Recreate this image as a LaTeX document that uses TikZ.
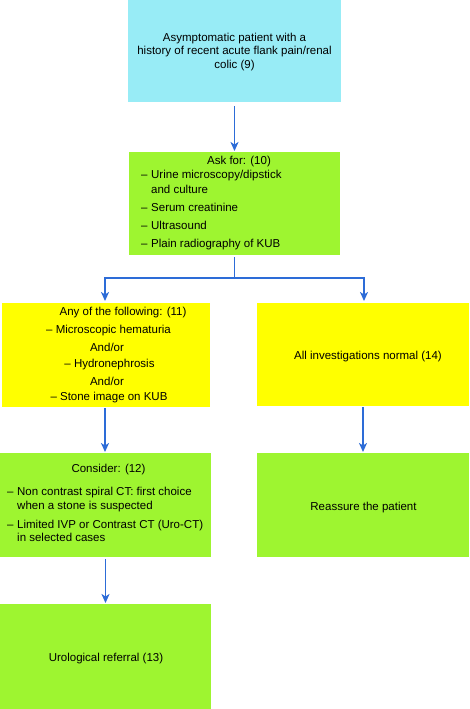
\documentclass[tikz,border=0pt]{standalone}
\usepackage{fontspec}
\setmainfont{Liberation Sans}
\usetikzlibrary{arrows.meta}
\definecolor{boxcyan}{RGB}{152,236,246}
\definecolor{boxgreen}{RGB}{158,245,48}
\definecolor{boxyellow}{RGB}{255,255,0}
\definecolor{arrblue}{RGB}{45,108,215}
\begin{document}
\begin{tikzpicture}[x=1pt,y=-1pt,
  box/.style={draw=none,inner sep=0pt,outer sep=0pt,anchor=north west},
  txt/.style={inner sep=0pt,font=\fontsize{11.5}{13}\selectfont,anchor=base},
  txtl/.style={txt,anchor=base west},
  link/.style={draw=arrblue,line width=1.8pt},
  arr/.style={link,-{Stealth[length=9pt,width=8pt,inset=2.5pt]}}]
\useasboundingbox (0,0) rectangle (469,709);
% boxes
\path[fill=boxcyan] (128,0) rectangle (341,102);
\node[box,minimum width=213pt,minimum height=102pt] (top) at (128,0) {};
\path[fill=boxgreen] (129,152) rectangle (340,255);
\node[box,minimum width=211pt,minimum height=103pt] (ask) at (129,152) {};
\path[fill=boxyellow] (2,303) rectangle (210,407);
\node[box,minimum width=208pt,minimum height=104pt] (any) at (2,303) {};
\path[fill=boxyellow] (257,303) rectangle (469,406);
\node[box,minimum width=212pt,minimum height=103pt] (norm) at (257,303) {};
\path[fill=boxgreen] (0,453) rectangle (211,557);
\node[box,minimum width=211pt,minimum height=104pt] (cons) at (0,453) {};
\path[fill=boxgreen] (257,453) rectangle (469,557);
\node[box,minimum width=212pt,minimum height=104pt] (reas) at (257,453) {};
\path[fill=boxgreen] (0,604) rectangle (211,709);
\node[box,minimum width=211pt,minimum height=105pt] (uro) at (0,604) {};
% top text
\node[txt] (t1) at (234.5,42) {Asymptomatic patient with a};
\node[txt] (t2) at (234.5,55) {history of recent acute flank pain/renal};
\node[txt] (t3) at (234.5,68) {colic (9)};
% ask text
\node[txt] (a0) at (239,164) {Ask for: (10)};
\node[txtl] (a1) at (141,178) {\makebox[10pt][l]{–}Urine microscopy/dipstick};
\node[txtl] (a2) at (151,193) {and culture};
\node[txtl] (a3) at (141,211) {\makebox[10pt][l]{–}Serum creatinine};
\node[txtl] (a4) at (141,229) {\makebox[10pt][l]{–}Ultrasound};
\node[txtl] (a5) at (141,247) {\makebox[10pt][l]{–}Plain radiography of KUB};
% any text
\node[txt] (y0) at (123,315) {Any of the following: (11)};
\node[txt] (y1) at (108.5,333) {– Microscopic hematuria};
\node[txt] (y2) at (107,351) {And/or};
\node[txt] (y3) at (109.5,367) {– Hydronephrosis};
\node[txt] (y4) at (107,385) {And/or};
\node[txt] (y5) at (109,400) {– Stone image on KUB};
% normal text
\node[txt] (n0) at (368,359) {All investigations normal (14)};
% consider text
\node[txt] (c0) at (108.5,472) {Consider: (12)};
\node[txtl] (c1) at (7,495) {\makebox[10pt][l]{–}Non contrast spiral CT: first choice};
\node[txtl] (c2) at (17,509) {when a stone is suspected};
\node[txtl] (c3) at (7,528) {\makebox[10pt][l]{–}Limited IVP or Contrast CT (Uro-CT)};
\node[txtl] (c4) at (17,541) {in selected cases};
% reassure / referral
\node[txt] (r0) at (363.5,510) {Reassure the patient};
\node[txt] (u0) at (106,661) {Urological referral (13)};
% connectors
\coordinate (split) at (234.5,278);
\draw[arr,shorten <=4pt,shorten >=1pt] (top.south) -- (ask.north);
\draw[link,shorten <=2pt] (ask.south) -- (split);
\draw[arr,shorten >=2pt] (split) -| ([xshift=-1pt]any.north);
\draw[arr,shorten >=2pt] (split) -| ([xshift=1pt]norm.north);
\draw[arr,shorten <=1pt,shorten >=1pt] ([xshift=-1pt]any.south) -- ([xshift=-0.5pt]cons.north);
\draw[arr,shorten <=1pt,shorten >=1pt] (norm.south) -- (reas.north);
\draw[arr,shorten <=2pt,shorten >=1pt] (cons.south) -- (uro.north);
\end{tikzpicture}
\end{document}
